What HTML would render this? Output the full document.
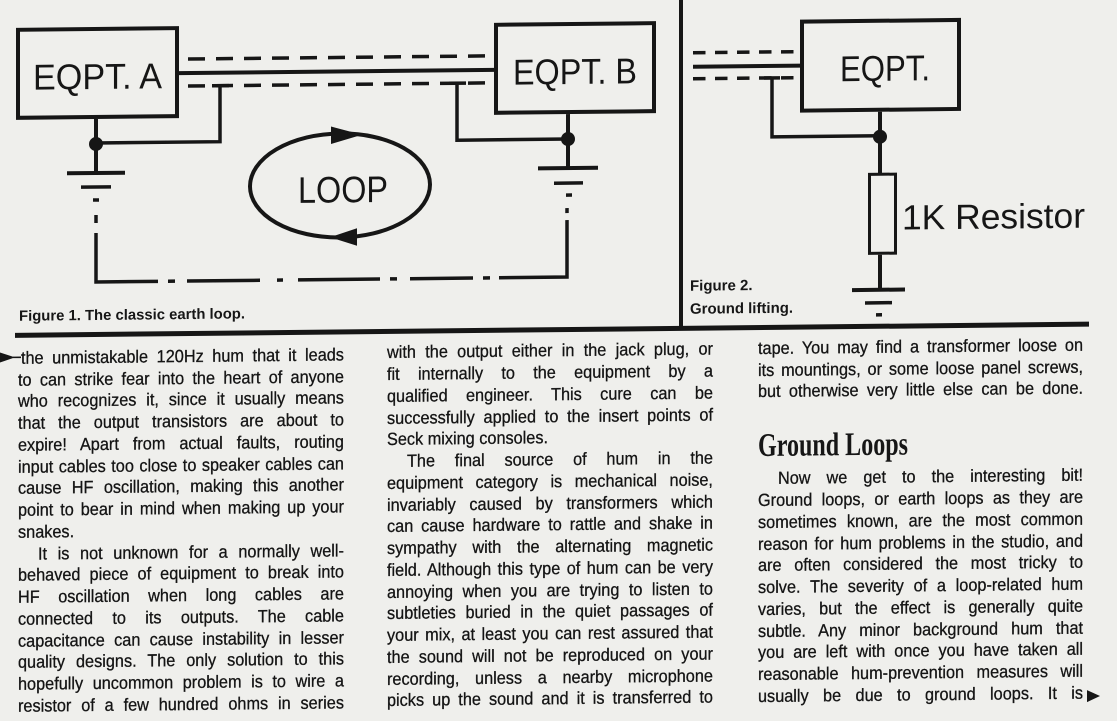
<!DOCTYPE html>
<html>
<head>
<meta charset="utf-8">
<style>
  html,body{margin:0;padding:0;}
  body{width:1117px;height:721px;overflow:hidden;background:#efefec;position:relative;}
  #w{position:absolute;left:0;top:0;width:1117px;height:721px;transform:skewY(-0.6deg);transform-origin:0 0;}
  svg{position:absolute;left:0;top:0;overflow:visible;}
  .col{position:absolute;font-family:"Liberation Sans",Arial,sans-serif;font-size:17.6px;line-height:21.75px;color:#141414;-webkit-text-stroke:0.3px #141414;transform:scaleX(0.925);transform-origin:0 0;}
  .col div{height:21.75px;text-align:justify;text-align-last:justify;white-space:normal;}
  .col div.l{text-align:left;text-align-last:left;}
  .col div.i{padding-left:21.6px;}
</style>
</head>
<body>
<div id="w">
<svg width="1117" height="721" viewBox="0 0 1117 721">
  <g stroke="#161616" fill="none" stroke-linecap="butt">
    <rect x="18" y="30" width="159" height="88" stroke-width="4"/>
    <rect x="496" y="30" width="158" height="88" stroke-width="4"/>
    <line x1="179" y1="75" x2="494" y2="75" stroke-width="4"/>
    <line x1="188" y1="61" x2="490" y2="61" stroke-width="3.5" stroke-dasharray="17 11"/>
    <line x1="188" y1="88" x2="490" y2="88" stroke-width="3.5" stroke-dasharray="17 11"/>
    <line x1="212" y1="88" x2="229" y2="88" stroke-width="3.5"/>
    <path d="M220,88 V144 H96" stroke-width="3.5"/>
    <path d="M96,120 V174" stroke-width="4"/>
    <line x1="67" y1="174" x2="125" y2="174" stroke-width="4"/>
    <line x1="81" y1="188" x2="111" y2="188" stroke-width="3.5"/>
    <line x1="93" y1="201" x2="99" y2="201" stroke-width="3.5"/>
    <line x1="449" y1="88" x2="466" y2="88" stroke-width="3.5"/>
    <path d="M457,88 V145 H568" stroke-width="3.5"/>
    <path d="M568,120 V174" stroke-width="4"/>
    <line x1="538" y1="174" x2="598" y2="174" stroke-width="4"/>
    <line x1="554" y1="189" x2="583" y2="189" stroke-width="3.5"/>
    <line x1="566" y1="201" x2="572" y2="201" stroke-width="3.5"/>
    <path d="M96,216 V224 M96,234 V283 H158 M168,283 H175 M187,283 H260 M277,283 H283 M298,283 H380 M390,283 H397 M410,283 H473 M483,283 H490 M499,283 H567 V226 M567,214 V219" stroke-width="3.5"/>
    <ellipse cx="340" cy="189" rx="90" ry="52" stroke-width="4"/>

    <line x1="693" y1="60" x2="797" y2="60" stroke-width="3.5" stroke-dasharray="12.5 9.5"/>
    <line x1="693" y1="74" x2="802" y2="74" stroke-width="4"/>
    <line x1="693" y1="86" x2="797" y2="86" stroke-width="3.5" stroke-dasharray="12.5 9.5"/>
    <rect x="802" y="30" width="157" height="89" stroke-width="4"/>
    <line x1="764" y1="86" x2="780" y2="86" stroke-width="3.5"/>
    <path d="M772,86 V145 H880" stroke-width="3.5"/>
    <path d="M880,121 V183" stroke-width="4"/>
    <rect x="869.5" y="183.5" width="26" height="79" stroke-width="3"/>
    <path d="M880,264 V299" stroke-width="4"/>
    <line x1="852" y1="299" x2="905" y2="299" stroke-width="4"/>
    <line x1="865" y1="312" x2="892" y2="312" stroke-width="3.5"/>
    <line x1="876" y1="324" x2="882" y2="324" stroke-width="3.5"/>
  </g>
  <g fill="#161616">
    <circle cx="96" cy="145" r="7"/>
    <circle cx="568" cy="145" r="7"/>
    <circle cx="880" cy="146" r="7"/>
    <polygon points="362,138.6 331,130 331,147.5"/>
    <polygon points="330,240.7 357,232 357,249.5"/>
    <rect x="679" y="-12" width="4" height="348"/>
    <rect x="15" y="333" width="1074" height="5"/>
    <polygon points="0,352.5 15,357.5 0,362.5"/>
    <rect x="13" y="356.7" width="8" height="1.6"/>
    <polygon points="1087,701.5 1100,707.5 1087,713.5"/>
  </g>
  <g fill="#161616" font-family="'Liberation Sans', Arial, sans-serif">
    <text x="33" y="90" font-size="36" textLength="129" lengthAdjust="spacingAndGlyphs">EQPT. A</text>
    <text x="513" y="90" font-size="36" textLength="124" lengthAdjust="spacingAndGlyphs">EQPT. B</text>
    <text x="298" y="206" font-size="37" textLength="90" lengthAdjust="spacingAndGlyphs">LOOP</text>
    <text x="840" y="90" font-size="36" textLength="90" lengthAdjust="spacingAndGlyphs">EQPT.</text>
    <text x="902" y="239" font-size="35" textLength="183" lengthAdjust="spacingAndGlyphs">1K Resistor</text>
    <text x="19" y="321" font-size="14.8" font-weight="bold" textLength="226" lengthAdjust="spacingAndGlyphs">Figure 1. The classic earth loop.</text>
    <text x="690" y="298" font-size="15" font-weight="bold">Figure 2.</text>
    <text x="690" y="321" font-size="15" font-weight="bold" textLength="103" lengthAdjust="spacingAndGlyphs">Ground lifting.</text>
  </g>
  <text x="758" y="464" fill="#161616" font-family="'Liberation Serif', 'Times New Roman', serif" font-weight="bold" font-size="33" textLength="150" lengthAdjust="spacingAndGlyphs">Ground Loops</text>
</svg>

<div class="col" style="left:18px;top:347.8px;width:352.4px;">
  <div style="padding-left:3.2px;">the unmistakable 120Hz hum that it leads</div>
  <div>to can strike fear into the heart of anyone</div>
  <div>who recognizes it, since it usually means</div>
  <div>that the output transistors are about to</div>
  <div>expire! Apart from actual faults, routing</div>
  <div>input cables too close to speaker cables can</div>
  <div>cause HF oscillation, making this another</div>
  <div>point to bear in mind when making up your</div>
  <div class="l">snakes.</div>
  <div class="i">It is not unknown for a normally well-</div>
  <div>behaved piece of equipment to break into</div>
  <div>HF oscillation when long cables are</div>
  <div>connected to its outputs. The cable</div>
  <div>capacitance can cause instability in lesser</div>
  <div>quality designs. The only solution to this</div>
  <div>hopefully uncommon problem is to wire a</div>
  <div>resistor of a few hundred ohms in series</div>
</div>

<div class="col" style="left:387px;top:346.3px;width:352.4px;">
  <div>with the output either in the jack plug, or</div>
  <div>fit internally to the equipment by a</div>
  <div>qualified engineer. This cure can be</div>
  <div>successfully applied to the insert points of</div>
  <div class="l">Seck mixing consoles.</div>
  <div class="i">The final source of hum in the</div>
  <div>equipment category is mechanical noise,</div>
  <div>invariably caused by transformers which</div>
  <div>can cause hardware to rattle and shake in</div>
  <div>sympathy with the alternating magnetic</div>
  <div>field. Although this type of hum can be very</div>
  <div>annoying when you are trying to listen to</div>
  <div>subtleties buried in the quiet passages of</div>
  <div>your mix, at least you can rest assured that</div>
  <div>the sound will not be reproduced on your</div>
  <div>recording, unless a nearby microphone</div>
  <div>picks up the sound and it is transferred to</div>
</div>

<div class="col" style="left:758px;top:345.8px;width:351.4px;">
  <div>tape. You may find a transformer loose on</div>
  <div>its mountings, or some loose panel screws,</div>
  <div>but otherwise very little else can be done.</div>
  <div style="height:65.25px;"></div>
  <div class="i">Now we get to the interesting bit!</div>
  <div>Ground loops, or earth loops as they are</div>
  <div>sometimes known, are the most common</div>
  <div>reason for hum problems in the studio, and</div>
  <div>are often considered the most tricky to</div>
  <div>solve. The severity of a loop-related hum</div>
  <div>varies, but the effect is generally quite</div>
  <div>subtle. Any minor background hum that</div>
  <div>you are left with once you have taken all</div>
  <div>reasonable hum-prevention measures will</div>
  <div>usually be due to ground loops. It is</div>
</div>
</div>
</body>
</html>
